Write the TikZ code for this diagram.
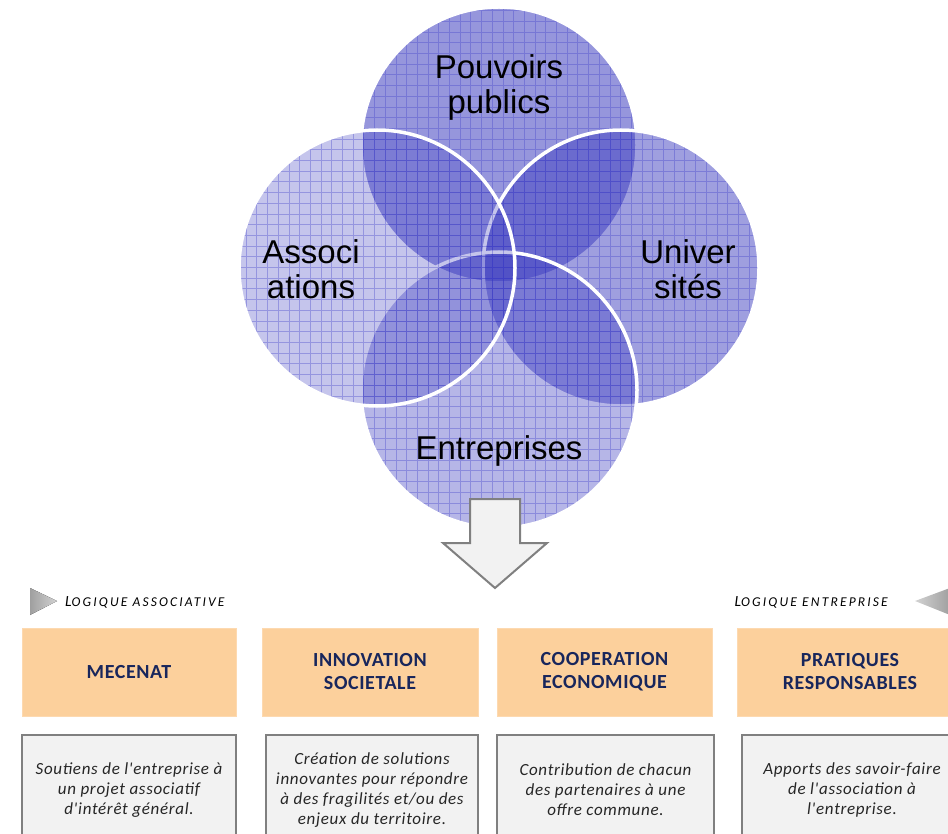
\documentclass[tikz,border=0pt]{standalone}
\usepackage{fontspec}
\setmainfont{Liberation Sans}
\newfontfamily\calib{Carlito}
\begin{document}
\begin{tikzpicture}[x=1pt,y=-1pt]
\useasboundingbox (0,0) rectangle (948,834);
\clip (0,0) rectangle (948,834);
\definecolor{circblue}{RGB}{64,64,192}
\definecolor{gridblue}{RGB}{60,60,200}
\definecolor{orangebox}{RGB}{252,208,156}
\definecolor{navytext}{RGB}{24,38,92}
\definecolor{boxgray}{RGB}{242,242,242}
\definecolor{edgegray}{RGB}{128,128,128}
\tikzset{
  circlabel/.style={font=\fontsize{33}{35}\selectfont, align=center, text=black, inner sep=0pt},
  whiteedge/.style={draw=white, line width=3.5pt},
  orangenode/.style={fill=orangebox, draw=orangebox!80!white, line width=1pt, minimum height=88pt,
     font=\calib\bfseries\fontsize{20}{23}\selectfont\addfontfeatures{LetterSpace=3}, text=navytext, align=center, inner sep=0pt},
  graynode/.style={fill=boxgray, draw=edgegray, line width=2.5pt, minimum height=110pt,
     font=\calib\itshape\fontsize{17}{20}\selectfont\addfontfeatures{LetterSpace=4}, text=black!85, align=center, inner sep=0pt},
  logiq/.style={font=\calib\itshape, text=black, inner sep=0pt},
  bigarrow/.style={fill=boxgray, draw=edgegray, line width=2pt, line join=miter},
  pointer/.style={left color=gray!75, right color=gray!35, draw=none}
}
\newcommand\venndisc[2]{%
  \begin{scope}
    \clip (#1) circle (138pt);
    \fill[circblue, opacity=#2] (0,0) rectangle (948,600);
    \draw[gridblue, opacity=0.35, line width=0.8pt, step=10.7pt] (0,0) grid (948,600);
  \end{scope}
  \draw[whiteedge] (#1) circle (138pt);}
% circle centres
\coordinate (cP) at (499,145);
\coordinate (cA) at (377,268);
\coordinate (cU) at (621,268);
\coordinate (cE) at (499,390);
% discs (drawing order as in the reference)
\venndisc{cP}{0.55}
\venndisc{cU}{0.50}
\venndisc{cE}{0.38}
\venndisc{cA}{0.30}
% labels
\node[circlabel] (lP) at (499,87) {Pouvoirs\\publics};
\node[circlabel] (lA) at (311,269) {Associ\\ations};
\node[circlabel] (lU) at (688,269) {Univer\\sités};
\node[circlabel] (lE) at (499,451) {Entreprises};
% big arrow
\draw[bigarrow] (470,499) -- (520,499) -- (520,543) -- (547,543) -- (495,588) -- (443,543) -- (470,543) -- cycle;
% logique labels
\fill[pointer] (30,588) -- (57,601) -- (30,615) -- cycle;
\shade[left color=gray!35, right color=gray!75] (915,601) -- (950,588) -- (950,615) -- cycle;
\node[logiq, anchor=west] (logA) at (65,602) {\fontsize{15.5}{17}\selectfont\addfontfeatures{LetterSpace=16}L\fontsize{13.5}{17}\selectfont\addfontfeatures{LetterSpace=16}OGIQUE ASSOCIATIVE};
\node[logiq, anchor=east] (logE) at (888,602) {\fontsize{15.5}{17}\selectfont\addfontfeatures{LetterSpace=16}L\fontsize{13.5}{17}\selectfont\addfontfeatures{LetterSpace=16}OGIQUE ENTREPRISE};
% orange boxes
\node[orangenode, minimum width=214pt] (o1) at (129,672) {MECENAT};
\node[orangenode, minimum width=216pt] (o2) at (370,672) {INNOVATION\\SOCIETALE};
\node[orangenode, minimum width=215pt] (o3) at (604.5,672) {COOPERATION\\ECONOMIQUE};
\node[orangenode, minimum width=226pt] (o4) at (850,672) {PRATIQUES\\RESPONSABLES};
% gray boxes
\node[graynode, minimum width=214pt] (g1) at (129,790) {Soutiens de l'entreprise à\\un projet associatif\\d'intérêt général.};
\node[graynode, minimum width=212pt] (g2) at (372,790) {Création de solutions\\innovantes pour répondre\\à des fragilités et/ou des\\enjeux du territoire.};
\node[graynode, minimum width=217pt] (g3) at (605.5,790) {Contribution de chacun\\des partenaires à une\\offre commune.};
\node[graynode, minimum width=220pt] (g4) at (852,790) {Apports des savoir-faire\\de l'association à\\l'entreprise.};
\end{tikzpicture}
\end{document}
